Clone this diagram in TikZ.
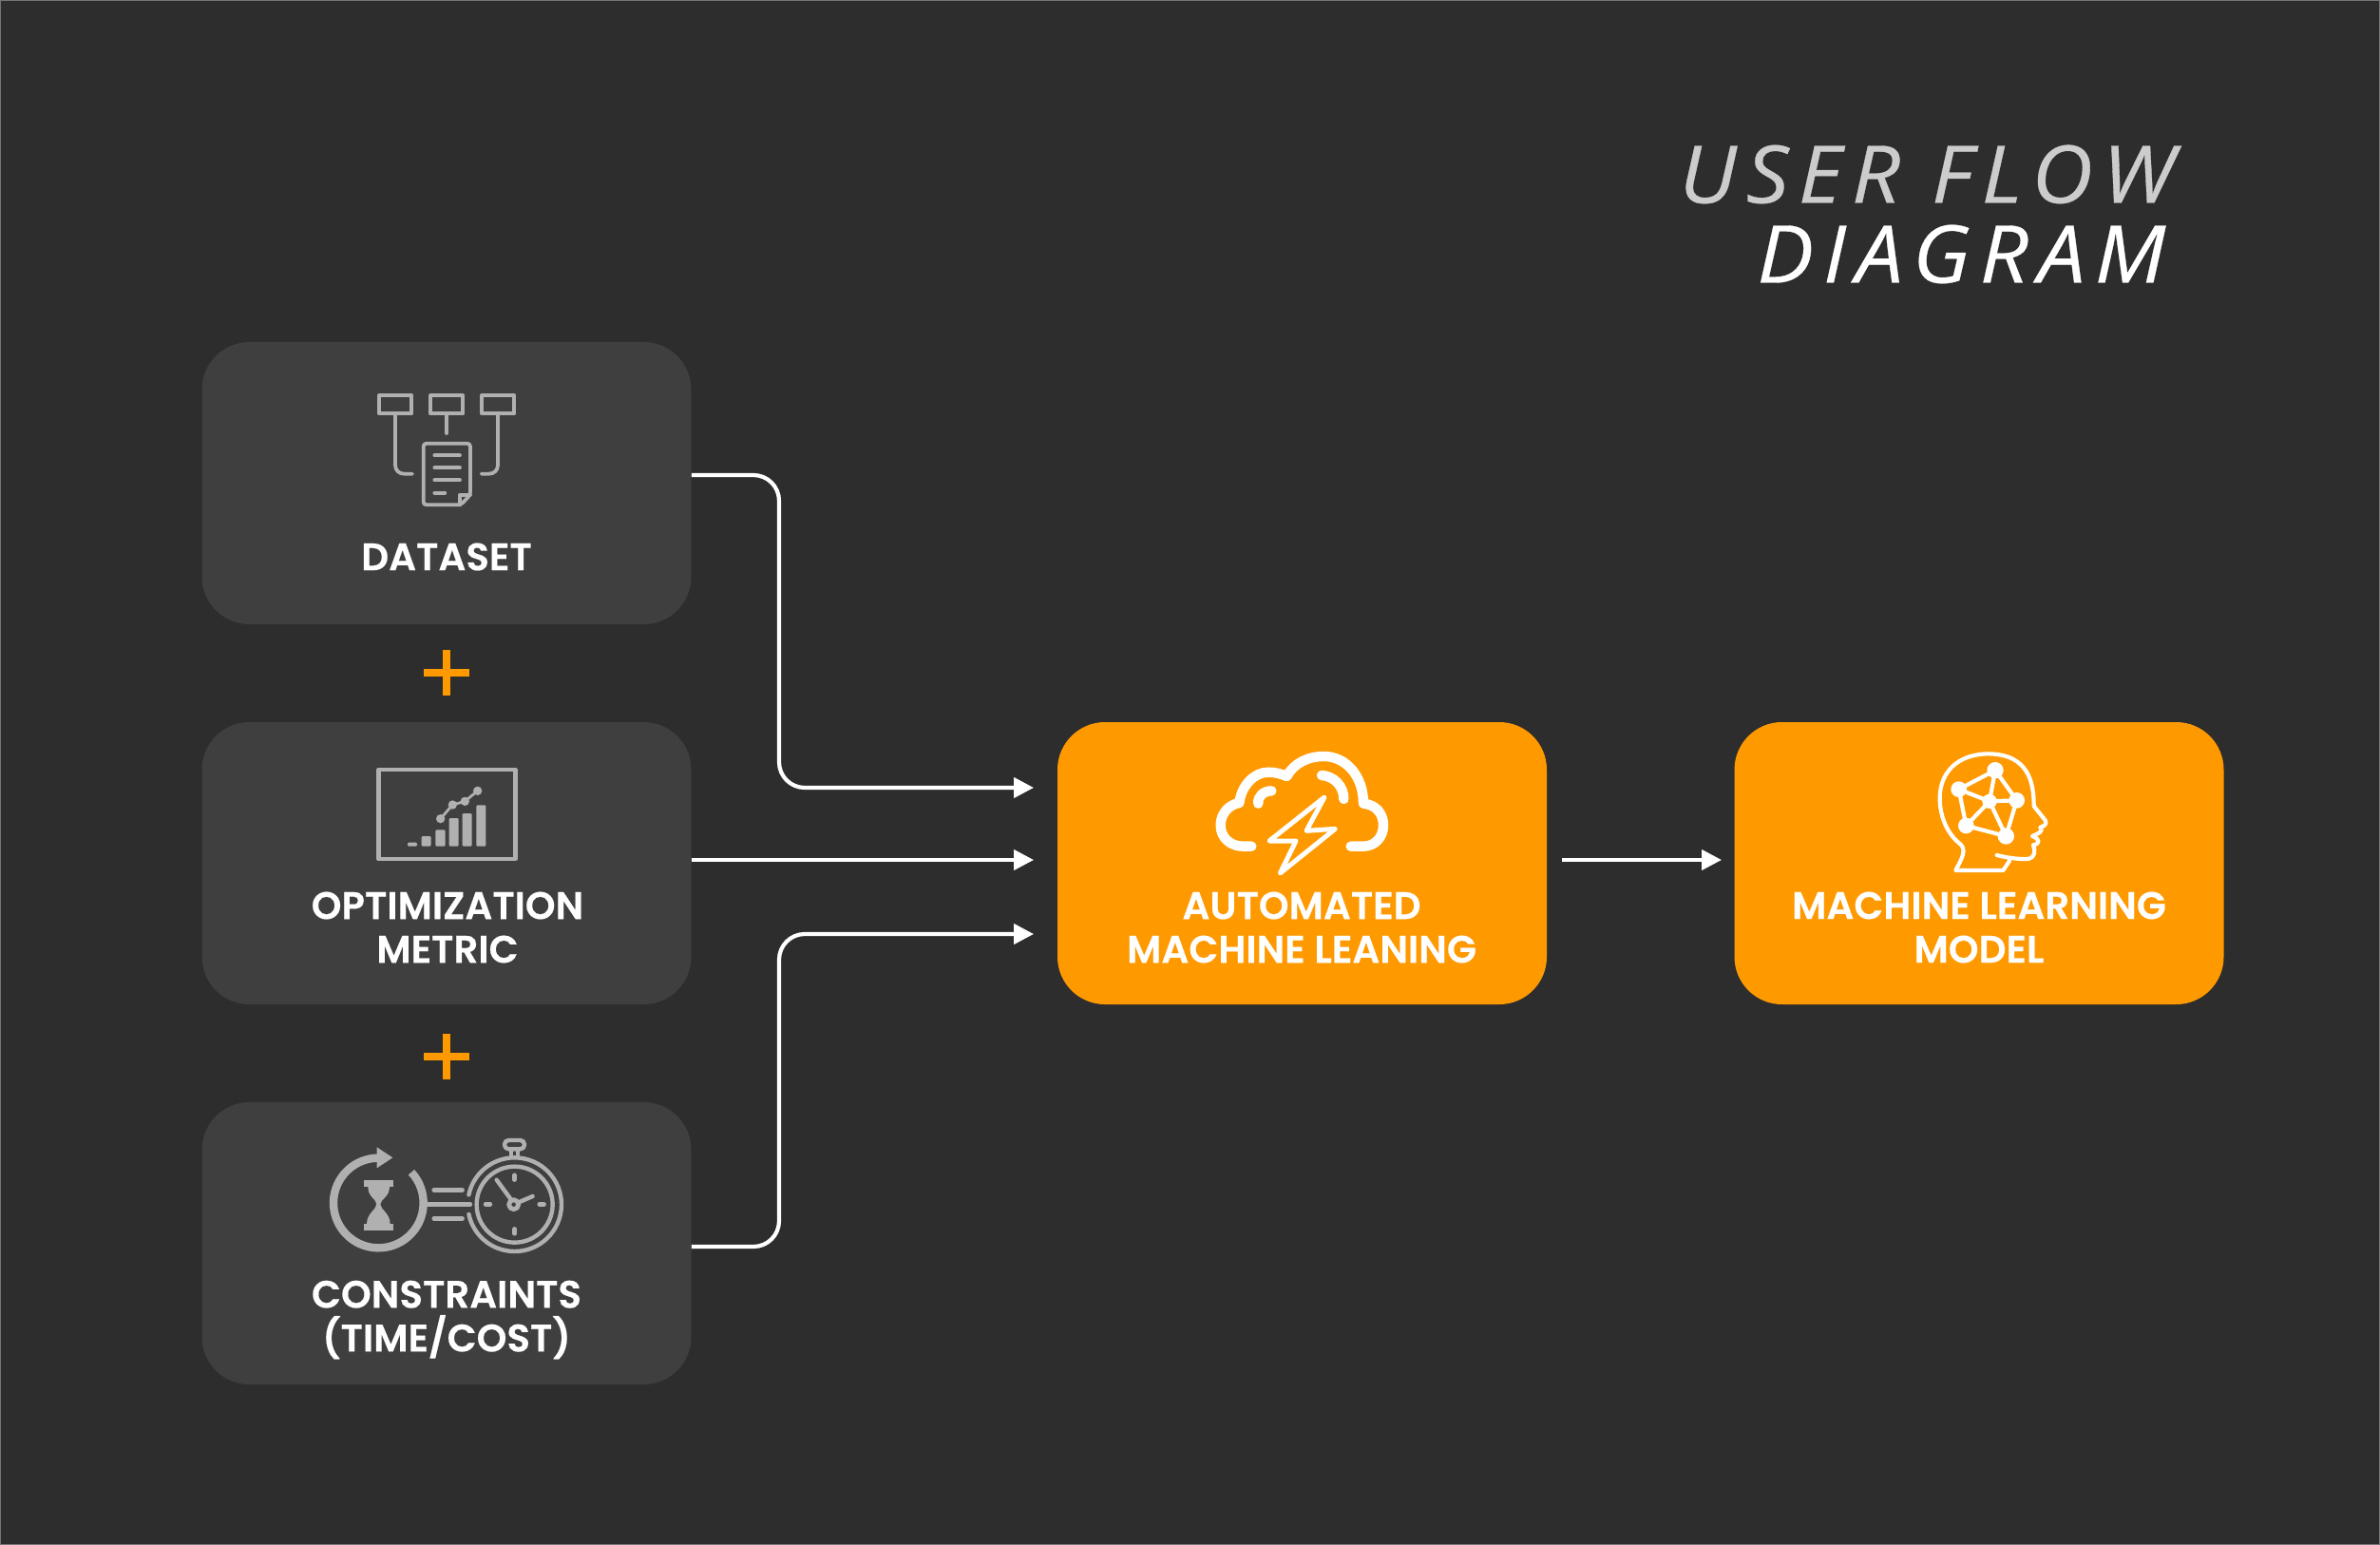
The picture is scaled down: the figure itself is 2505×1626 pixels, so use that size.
\documentclass[tikz,border=0pt]{standalone}
\usepackage{fontspec}
\setmainfont{Poppins}[BoldFont={Poppins SemiBold},BoldFeatures={FakeBold=0.4}]
\newfontfamily\titlefont[LetterSpace=12,FakeStretch=1.06,FakeBold=0.4]{Open Sans}
\usetikzlibrary{arrows.meta}
\definecolor{bgc}{HTML}{2D2D2D}
\definecolor{boxc}{HTML}{3F3F3F}
\definecolor{orangec}{HTML}{FF9900}
\definecolor{iconc}{HTML}{B0B0B0}
\definecolor{titlec}{HTML}{CCCCCC}
\tikzset{
  darkbox/.style={fill=boxc,rounded corners=25pt,minimum width=257.5pt,minimum height=148.5pt,inner sep=0pt},
  hotbox/.style={fill=orangec,rounded corners=25pt,minimum width=257.5pt,minimum height=148.5pt,inner sep=0pt},
  boxlabel/.style={text=white,font=\fontsize{20.2pt}{23pt}\selectfont\bfseries,align=center,inner sep=0pt},
  flow/.style={draw=white,line width=2.1pt,rounded corners=13.5pt,-{Triangle[length=10.5pt,width=10.5pt]}},
  plusbar/.style={draw=orangec,line width=4pt},
  gicon/.style={draw=iconc,line width=1.9pt,line cap=round,line join=round},
  wicon/.style={draw=white,line width=2.1pt,line cap=round,line join=round},
  titletext/.style={font=\fontsize{42pt}{42pt}\selectfont\titlefont\itshape,anchor=base west,inner sep=0pt},
}
\begin{document}
\begin{tikzpicture}[x=0.5pt,y=-0.5pt]
\useasboundingbox (0,0) rectangle (2505,1626);
\fill[bgc] (0,0) rectangle (2505,1626);
\draw[color=white!35!bgc,line width=0.5pt] (0.5,0.5) rectangle (2504.5,1625.5);

\node[titletext,text=titlec] (t1) at (1767,213.5) {USER FLOW};
\node[titletext,text=white] (t2) at (1849,297.5) {DIAGRAM};

\node[darkbox] (data) at (470,508.5) {};
\node[darkbox] (metric) at (470,908.5) {};
\node[darkbox] (cons) at (470,1308.5) {};
\node[hotbox] (auto) at (1370.5,908.5) {};
\node[hotbox] (model) at (2083,908.5) {};

\node[boxlabel] (l1) at (470,586) {DATASET};
\node[boxlabel] (l2) at (471,976) {OPTIMIZATION\\METRIC};
\node[boxlabel] (l3) at (470,1389) {CONSTRAINTS\\(TIME/COST)};
\node[boxlabel] (l4) at (1370,976) {AUTOMATED\\MACHINE LEANING};
\node[boxlabel] (l5) at (2083,976) {MACHINE LEARNING\\MODEL};

% plus signs
\draw[plusbar] (446,708) -- (494,708) (470,684) -- (470,732);
\draw[plusbar] (446,1112) -- (494,1112) (470,1088) -- (470,1136);

% connectors
\coordinate (b1) at (820,829);
\coordinate (b3) at (820,983);
\coordinate (e1) at (1088,829);
\coordinate (e2) at (1088,905);
\coordinate (e3) at (1088,983);
\draw[flow] ([yshift=4.25pt]data.east) -| (b1) -- (e1);
\draw[flow] ([yshift=1.75pt]metric.east) -- (e2);
\draw[flow] ([yshift=-1.75pt]cons.east) -| (b3) -- (e3);
\coordinate (e4) at (1812,905);
\draw[flow] ([xshift=8pt,yshift=1.75pt]auto.east) -- (e4);

% dataset icon
\begin{scope}[shift={(360,390)},scale=1/3,gicon]
\draw (118,78) rectangle (220,136);
\draw (280,78) rectangle (382,136);
\draw (442,78) rectangle (544,136);
\draw (168,136) -- (168,298) .. controls (168,315) and (180,326) .. (196,326) -- (222,326);
\draw (330,136) -- (330,198);
\draw (492,136) -- (492,298) .. controls (492,315) and (480,326) .. (464,326) -- (440,326);
\draw[rounded corners=1.6pt] (405,392) -- (405,230) -- (257,230) -- (257,424) -- (375,424) -- cycle;
\draw (292,268) -- (372,268) (292,307) -- (372,307) (292,346) -- (372,346) (292,386) -- (325,386);
\draw (405,392) -- (372,392) -- (372,424);
\end{scope}

% metric icon
\begin{scope}[shift={(370,790)},scale=1/3]
\draw[gicon,line width=2.2pt] (85,60) rectangle (517,342);
\fill[iconc,rounded corners=0.6pt] (177,290) rectangle (207,302);
\fill[iconc,rounded corners=0.6pt] (221,270) rectangle (251,302);
\fill[iconc,rounded corners=0.6pt] (265,250) rectangle (296,302);
\fill[iconc,rounded corners=0.6pt] (308,213) rectangle (338,302);
\fill[iconc,rounded corners=0.6pt] (350,198) rectangle (380,302);
\fill[iconc,rounded corners=0.6pt] (394,172) rectangle (424,302);
\draw[gicon,line width=1.4pt] (281,215) -- (319,171) -- (358,160) -- (398,127);
\fill[iconc] (281,215) circle[radius=14] (319,171) circle[radius=14] (358,160) circle[radius=14] (398,127) circle[radius=14];
\end{scope}

% constraints icon
\begin{scope}[shift={(330,1180)},scale=1/3]
\draw[draw=iconc,line width=4.2pt] (205,258) ++(-43:142) arc[start angle=-43,end angle=270,radius=142];
\fill[iconc] (200,82) -- (250,115) -- (200,148) -- cycle;
\fill[iconc] (160,187) rectangle (252,207);
\fill[iconc] (160,325) rectangle (252,345);
\fill[iconc] (172,207) .. controls (172,240) and (198,245) .. (199,262) .. controls (198,280) and (168,290) .. (168,325) -- (242,325) .. controls (242,290) and (212,280) .. (211,262) .. controls (212,245) and (240,240) .. (240,207) -- cycle;
\draw[gicon,line width=2.2pt] (380,217) -- (470,217) (360,262) -- (495,262) (380,307) -- (470,307);
\draw[gicon,line width=2.2pt] (635,263) circle[radius=120];
\draw[gicon,line width=2.2pt] (635,263) ++(-168:148) arc[start angle=-168,end angle=168,radius=148];
\draw[gicon,line width=2.2pt,rounded corners=2.2pt] (603,60) rectangle (666,88);
\draw[gicon,line width=2pt] (624,88) -- (624,112) (646,88) -- (646,112);
\draw[gicon,line width=2.2pt] (635,170) -- (635,185) (635,340) -- (635,355) (543,262) -- (558,262) (713,262) -- (728,262);
\draw[gicon,line width=2.2pt] (578,185) -- (622,245) (650,255) -- (692,237);
\draw[gicon,line width=2.4pt] (632,263) circle[radius=15];
\end{scope}

% cloud icon
\begin{scope}[shift={(1260,775)},scale=1/3]
\draw[wicon,line width=5.2pt] (172,347) -- (145,347) .. controls (105,347) and (74,320) .. (74,280) .. controls (74,245) and (100,215) .. (133,210) .. controls (140,155) and (180,113) .. (225,113) .. controls (245,113) and (265,118) .. (283,126) .. controls (305,85) and (350,63) .. (400,63) .. controls (470,63) and (525,125) .. (525,212) .. controls (565,215) and (588,245) .. (588,280) .. controls (588,320) and (560,347) .. (525,347) -- (485,347);
\draw[wicon,line width=5.2pt] (193,212) .. controls (190,190) and (210,172) .. (235,172);
\draw[wicon,line width=5.2pt] (393,123) .. controls (430,125) and (463,155) .. (463,198);
\draw[wicon,line width=2.5pt] (402,192) -- (228,330) -- (312,330) -- (262,432) -- (436,292) -- (345,298) -- cycle;
\end{scope}

% head icon
\begin{scope}[shift={(2020,780)},scale=1/3]
\draw[wicon] (245,360) .. controls (275,368) and (320,374) .. (345,372) .. controls (365,368) and (368,345) .. (360,328) .. controls (380,325) and (385,310) .. (357,300) .. controls (375,292) and (395,285) .. (382,272) .. controls (395,268) and (405,262) .. (398,250) -- (362,205) .. controls (362,130) and (345,42) .. (220,40) .. controls (120,40) and (65,100) .. (65,180) .. controls (65,240) and (90,295) .. (130,325) .. controls (150,345) and (135,370) .. (115,408) -- (265,408) -- (285,378);
\draw[wicon,line width=2.1pt] (240,92) -- (125,152) -- (148,267) -- (274,300) -- (308,187) -- cycle;
\draw[wicon,line width=2.1pt] (222,190) -- (240,92) (222,190) -- (125,152) (222,190) -- (308,187) (222,190) -- (148,267) (222,190) -- (274,300);
\fill[white] (240,92) circle[radius=26] (125,152) circle[radius=25] (308,187) circle[radius=25] (148,267) circle[radius=25] (274,300) circle[radius=26] (222,190) circle[radius=23];
\end{scope}
\end{tikzpicture}
\end{document}
